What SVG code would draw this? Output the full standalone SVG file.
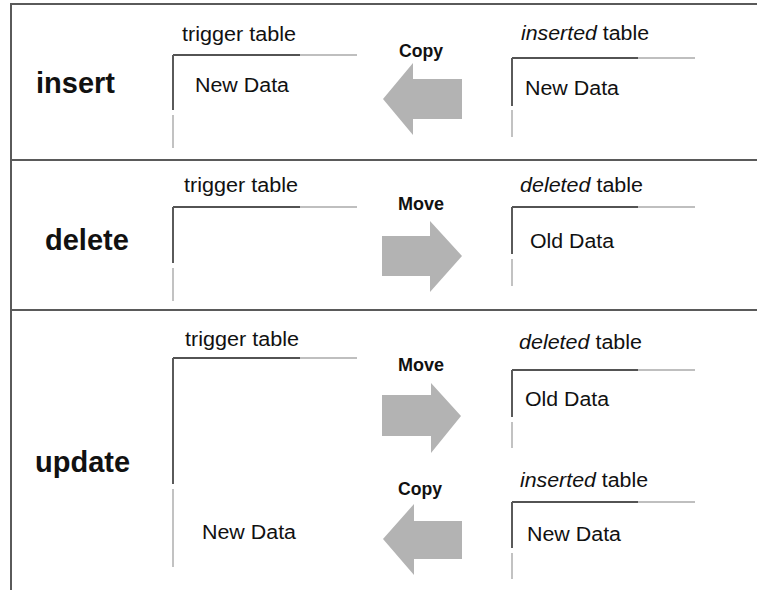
<svg xmlns="http://www.w3.org/2000/svg" width="757" height="590" viewBox="0 0 757 590">
<style>
.frame{stroke:#5a5a5a;stroke-width:2;fill:none}
.hd{stroke:#1a1a1a;stroke-width:1.5}
.hl{stroke:#aaaaaa;stroke-width:1.5}
.vd{stroke:#5a5a5a;stroke-width:2}
.vl{stroke:#999999;stroke-width:1.2}
.t{font-family:"Liberation Sans",Arial,sans-serif;font-size:19.5px;fill:#111}
.op{font-family:"Liberation Sans",Arial,sans-serif;font-size:29px;font-weight:bold;fill:#111}
.lab{font-family:"Liberation Sans Narrow","Liberation Sans",Arial,sans-serif;font-size:19px;font-weight:bold;fill:#111}
.arr{fill:#b3b3b3}
</style>
<rect width="757" height="590" fill="#ffffff"/>
<g id="frame">
<line class="frame" x1="11" y1="4" x2="757" y2="4"/>
<line class="frame" x1="11" y1="3" x2="11" y2="590"/>
<line class="frame" x1="11" y1="160" x2="757" y2="160"/>
<line class="frame" x1="11" y1="310" x2="757" y2="310"/>
</g>
<g id="op-insert"><text class="op" x="36" y="93">insert</text></g>
<g id="op-delete"><text class="op" x="45" y="250">delete</text></g>
<g id="op-update"><text class="op" x="35" y="472">update</text></g>

<g id="insert-trigger">
<text class="t" x="182" y="41" textLength="114" lengthAdjust="spacingAndGlyphs">trigger table</text>
<line class="hd" x1="173" y1="55" x2="300" y2="55"/><line class="hl" x1="300" y1="55" x2="357" y2="55"/>
<line class="vd" x1="173" y1="55" x2="173" y2="110"/><line class="vl" x1="173" y1="115" x2="173" y2="148"/>
<text class="t" x="195" y="92" textLength="94" lengthAdjust="spacingAndGlyphs">New Data</text>
</g>
<g id="insert-inserted">
<text class="t" x="521" y="40" textLength="128" lengthAdjust="spacingAndGlyphs"><tspan font-style="italic">inserted</tspan> table</text>
<line class="hd" x1="512" y1="58" x2="638" y2="58"/><line class="hl" x1="638" y1="58" x2="695" y2="58"/>
<line class="vd" x1="512" y1="58" x2="512" y2="106"/><line class="vl" x1="512" y1="110" x2="512" y2="137"/>
<text class="t" x="525" y="95" textLength="94" lengthAdjust="spacingAndGlyphs">New Data</text>
</g>

<g id="delete-trigger">
<text class="t" x="184" y="192" textLength="114" lengthAdjust="spacingAndGlyphs">trigger table</text>
<line class="hd" x1="173" y1="207" x2="300" y2="207"/><line class="hl" x1="300" y1="207" x2="357" y2="207"/>
<line class="vd" x1="173" y1="207" x2="173" y2="263"/><line class="vl" x1="173" y1="268" x2="173" y2="301"/>
</g>
<g id="delete-deleted">
<text class="t" x="520" y="192" textLength="123" lengthAdjust="spacingAndGlyphs"><tspan font-style="italic">deleted</tspan> table</text>
<line class="hd" x1="512" y1="207" x2="638" y2="207"/><line class="hl" x1="638" y1="207" x2="695" y2="207"/>
<line class="vd" x1="512" y1="207" x2="512" y2="254"/><line class="vl" x1="512" y1="259" x2="512" y2="286"/>
<text class="t" x="530" y="248" textLength="84" lengthAdjust="spacingAndGlyphs">Old Data</text>
</g>

<g id="update-trigger">
<text class="t" x="185" y="346" textLength="114" lengthAdjust="spacingAndGlyphs">trigger table</text>
<line class="hd" x1="173" y1="358" x2="300" y2="358"/><line class="hl" x1="300" y1="358" x2="357" y2="358"/>
<line class="vd" x1="173" y1="358" x2="173" y2="484"/><line class="vl" x1="173" y1="489" x2="173" y2="567"/>
<text class="t" x="202" y="539" textLength="94" lengthAdjust="spacingAndGlyphs">New Data</text>
</g>
<g id="update-deleted">
<text class="t" x="519" y="349" textLength="123" lengthAdjust="spacingAndGlyphs"><tspan font-style="italic">deleted</tspan> table</text>
<line class="hd" x1="512" y1="370" x2="638" y2="370"/><line class="hl" x1="638" y1="370" x2="695" y2="370"/>
<line class="vd" x1="512" y1="370" x2="512" y2="417"/><line class="vl" x1="512" y1="422" x2="512" y2="448"/>
<text class="t" x="525" y="406" textLength="84" lengthAdjust="spacingAndGlyphs">Old Data</text>
</g>
<g id="update-inserted">
<text class="t" x="520" y="487" textLength="128" lengthAdjust="spacingAndGlyphs"><tspan font-style="italic">inserted</tspan> table</text>
<line class="hd" x1="512" y1="502" x2="638" y2="502"/><line class="hl" x1="638" y1="502" x2="695" y2="502"/>
<line class="vd" x1="512" y1="502" x2="512" y2="548"/><line class="vl" x1="512" y1="553" x2="512" y2="579"/>
<text class="t" x="527" y="541" textLength="94" lengthAdjust="spacingAndGlyphs">New Data</text>
</g>

<g id="connectors">
<polygon class="arr" points="383,99 413,63 413,79 462,79 462,119 413,119 413,135"/>
<text class="lab" x="399" y="57" textLength="44" lengthAdjust="spacingAndGlyphs">Copy</text>
<polygon class="arr" points="382,236 430,236 430,221 462,256 430,292 430,276 382,276"/>
<text class="lab" x="398" y="210" textLength="46" lengthAdjust="spacingAndGlyphs">Move</text>
<polygon class="arr" points="382,395 431,395 431,383 461,416 431,453 431,436 382,436"/>
<text class="lab" x="398" y="371" textLength="46" lengthAdjust="spacingAndGlyphs">Move</text>
<polygon class="arr" points="383,539 414,504 414,521 462,521 462,559 414,559 414,575"/>
<text class="lab" x="398" y="495" textLength="44" lengthAdjust="spacingAndGlyphs">Copy</text>
</g>
</svg>
